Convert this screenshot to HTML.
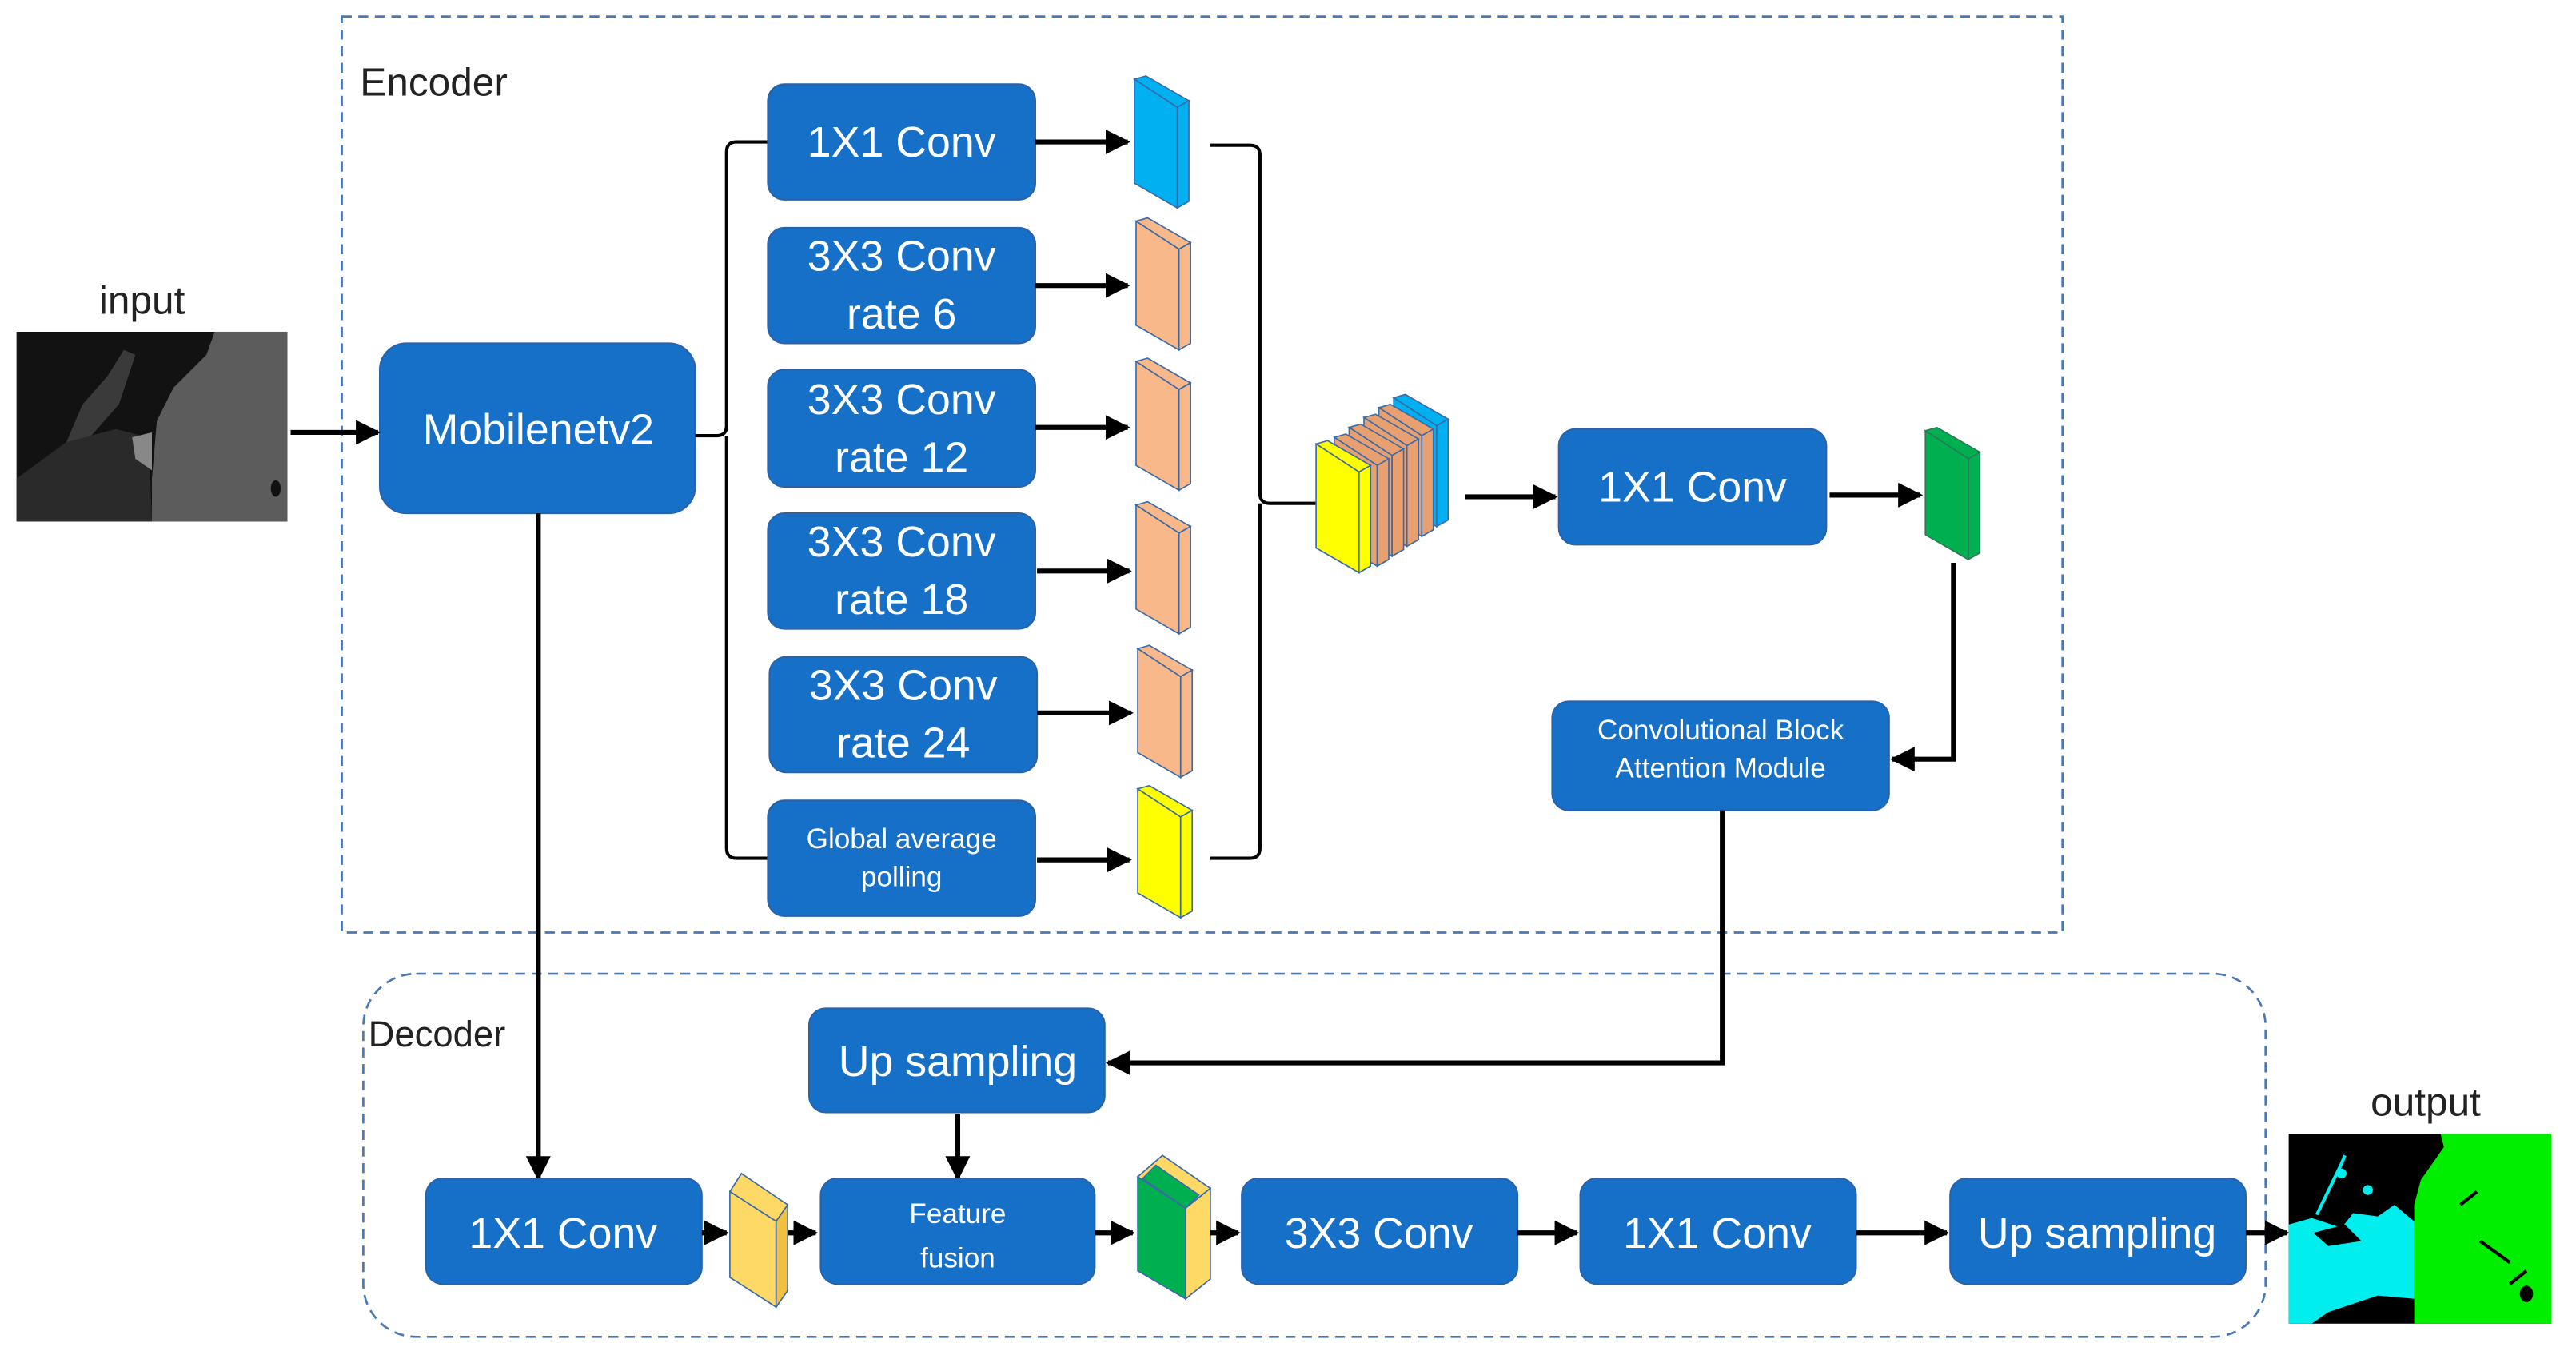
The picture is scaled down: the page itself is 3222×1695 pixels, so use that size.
<!DOCTYPE html>
<html><head><meta charset="utf-8"><style>
html,body{margin:0;padding:0;background:#fff;}
svg{display:block;}
text{font-family:"Liberation Sans",sans-serif;}
.b{fill:#1670c8;stroke:#2a62a8;stroke-width:1;}
.t{fill:#fff;text-anchor:middle;font-size:26px;}
.s{fill:#fff;text-anchor:middle;font-size:17px;}
.l{stroke:#000;stroke-width:3;fill:none;}
.ln{stroke:#000;stroke-width:2;fill:none;}
</style></head><body>
<svg width="3222" height="1695" viewBox="0 0 1560 821" preserveAspectRatio="none" xmlns="http://www.w3.org/2000/svg">
<defs>
<marker id="a" markerWidth="5" markerHeight="5" refX="4.5" refY="2.5" orient="auto" markerUnits="strokeWidth"><path d="M0,0 L5,2.5 L0,5 z" fill="#000"/></marker>
<g id="slab"><polygon points="0,2 7,0 33,15 26,19" /><polygon points="0,2 26,19 26,80 0,65"/><polygon points="26,19 33,15 33,76 26,80"/></g>
</defs>
<!-- encoder box -->
<rect x="207" y="10" width="1042" height="555" fill="none" stroke="#4a78b5" stroke-width="1.3" stroke-dasharray="6,4"/>
<text x="218" y="58" font-size="24" fill="#222">Encoder</text>
<!-- decoder box -->
<rect x="220" y="590" width="1152" height="220" rx="32" fill="none" stroke="#4a78b5" stroke-width="1.3" stroke-dasharray="6,4"/>
<text x="223" y="634" font-size="22" fill="#222">Decoder</text>
<!-- input -->
<text x="86" y="190" font-size="24" fill="#222" text-anchor="middle">input</text>
<rect x="10" y="201" width="164" height="115" fill="#121212"/>
<polygon points="92,201 174,201 174,316 92,316 92,290 95,255 105,235 125,215 130,201" fill="#5c5c5c"/>
<polygon points="35,280 50,245 65,228 75,212 82,215 72,245 50,270 42,282" fill="#3a3a3a"/>
<polygon points="10,290 40,268 70,260 90,265 92,316 10,316" fill="#2a2a2a"/>
<polygon points="80,265 92,262 92,285 82,278" fill="#888"/>
<ellipse cx="167" cy="296" rx="3" ry="5" fill="#111"/>
<!-- mobilenet -->
<rect class="b" x="230" y="208" width="191" height="103" rx="16"/>
<text class="t" x="326" y="269">Mobilenetv2</text>
<line class="l" x1="176" y1="262" x2="229" y2="262" marker-end="url(#a)"/>
<!-- branch bracket -->
<path class="ln" d="M421,264 L434,264 Q440,264 440,258 L440,92 Q440,86 446,86 L465,86"/>
<path class="ln" d="M440,264 L440,514 Q440,520 446,520 L465,520"/>
<!-- branch boxes -->
<rect class="b" x="465" y="51" width="162" height="70" rx="10"/><text class="t" x="546" y="95">1X1 Conv</text>
<rect class="b" x="465" y="138" width="162" height="70" rx="10"/><text class="t" x="546" y="164">3X3 Conv</text><text class="t" x="546" y="199">rate 6</text>
<rect class="b" x="465" y="224" width="162" height="71" rx="10"/><text class="t" x="546" y="251">3X3 Conv</text><text class="t" x="546" y="286">rate 12</text>
<rect class="b" x="465" y="311" width="162" height="70" rx="10"/><text class="t" x="546" y="337">3X3 Conv</text><text class="t" x="546" y="372">rate 18</text>
<rect class="b" x="466" y="398" width="162" height="70" rx="10"/><text class="t" x="547" y="424">3X3 Conv</text><text class="t" x="547" y="459">rate 24</text>
<rect class="b" x="465" y="485" width="162" height="70" rx="10"/><text class="s" x="546" y="514">Global average</text><text class="s" x="546" y="537">polling</text>
<!-- arrows -->
<line class="l" x1="627" y1="86" x2="683" y2="86" marker-end="url(#a)"/>
<line class="l" x1="627" y1="173" x2="683" y2="173" marker-end="url(#a)"/>
<line class="l" x1="627" y1="259" x2="683" y2="259" marker-end="url(#a)"/>
<line class="l" x1="628" y1="346" x2="684" y2="346" marker-end="url(#a)"/>
<line class="l" x1="628" y1="432" x2="685" y2="432" marker-end="url(#a)"/>
<line class="l" x1="628" y1="521" x2="684" y2="521" marker-end="url(#a)"/>
<!-- maps -->
<g stroke="#3a6aa8" stroke-width="0.8">
<use href="#slab" x="687" y="46" fill="#00b0f0"/>
<use href="#slab" x="688" y="132" fill="#f8b88a"/>
<use href="#slab" x="688" y="217" fill="#f8b88a"/>
<use href="#slab" x="688" y="304" fill="#f8b88a"/>
<use href="#slab" x="689" y="391" fill="#f8b88a"/>
<use href="#slab" x="689" y="476" fill="#ffff00"/>
</g>
<!-- right bracket -->
<path class="ln" d="M733,88 L757,88 Q763,88 763,94 L763,299 Q763,305 769,305 L797,305"/>
<path class="ln" d="M733,520 L757,520 Q763,520 763,514 L763,305"/>
<!-- concat stack -->
<g stroke="#3a6aa8" stroke-width="0.8">
<use href="#slab" x="844" y="239" fill="#00b0f0"/>
<use href="#slab" x="835" y="245" fill="#e8a070"/>
<use href="#slab" x="826" y="251" fill="#e8a070"/>
<use href="#slab" x="817" y="257" fill="#e8a070"/>
<use href="#slab" x="808" y="263" fill="#e8a070"/>
<use href="#slab" x="797" y="267" fill="#ffff00"/>
</g>
<line class="l" x1="887" y1="301" x2="942" y2="301" marker-end="url(#a)"/>
<rect class="b" x="944" y="260" width="162" height="70" rx="10"/><text class="t" x="1025" y="304">1X1 Conv</text>
<line class="l" x1="1108" y1="300" x2="1163" y2="300" marker-end="url(#a)"/>
<g stroke="#2a7a5a" stroke-width="0.8"><use href="#slab" x="1166" y="259" fill="#00b050"/></g>
<path class="l" d="M1183,341 L1183,460 L1146,460" marker-end="url(#a)"/>
<rect class="b" x="940" y="425" width="204" height="66" rx="10"/>
<text class="s" x="1042" y="448">Convolutional Block</text><text class="s" x="1042" y="471">Attention Module</text>
<path class="l" d="M1043,491 L1043,644 L671,644" marker-end="url(#a)"/>
<rect class="b" x="490" y="611" width="179" height="63" rx="10"/><text class="t" x="580" y="652">Up sampling</text>
<line class="l" x1="580" y1="675" x2="580" y2="714" marker-end="url(#a)"/>
<line class="l" x1="326" y1="311" x2="326" y2="714" marker-end="url(#a)"/>
<!-- bottom row -->
<rect class="b" x="258" y="714" width="167" height="64" rx="10"/><text class="t" x="341" y="756">1X1 Conv</text>
<line class="l" x1="425" y1="747" x2="440" y2="747" marker-end="url(#a)"/>
<g stroke="#3a6aa8" stroke-width="0.8">
<polygon points="442,722 449,711 477,730 470,740" fill="#ffd966"/>
<polygon points="442,722 470,740 470,792 442,774" fill="#ffd966"/>
<polygon points="470,740 477,730 477,782 470,792" fill="#f0c040"/>
</g>
<line class="l" x1="477" y1="747" x2="494" y2="747" marker-end="url(#a)"/>
<rect class="b" x="497" y="714" width="166" height="64" rx="10"/><text class="s" x="580" y="741">Feature</text><text class="s" x="580" y="768">fusion</text>
<line class="l" x1="663" y1="747" x2="686" y2="747" marker-end="url(#a)"/>
<g stroke="#3a6aa8" stroke-width="0.8">
<polygon points="689,713 704,700 733,720 718,732" fill="#ffd966"/>
<polygon points="689,713 718,732 718,787 689,770" fill="#00b050"/>
<polygon points="718,732 733,720 733,775 718,787" fill="#ffd966"/>
<polygon points="700,706 726,724 718,732 692,714" fill="#00b050"/>
</g>
<line class="l" x1="733" y1="747" x2="750" y2="747" marker-end="url(#a)"/>
<rect class="b" x="752" y="714" width="167" height="64" rx="10"/><text class="t" x="835" y="756">3X3 Conv</text>
<line class="l" x1="919" y1="747" x2="955" y2="747" marker-end="url(#a)"/>
<rect class="b" x="957" y="714" width="167" height="64" rx="10"/><text class="t" x="1040" y="756">1X1 Conv</text>
<line class="l" x1="1124" y1="747" x2="1179" y2="747" marker-end="url(#a)"/>
<rect class="b" x="1181" y="714" width="179" height="64" rx="10"/><text class="t" x="1270" y="756">Up sampling</text>
<line class="l" x1="1360" y1="747" x2="1385" y2="747" marker-end="url(#a)"/>
<!-- output -->
<text x="1469" y="676" font-size="24" fill="#222" text-anchor="middle">output</text>
<rect x="1386" y="687" width="159" height="115" fill="#000"/>
<polygon points="1462,687 1545,687 1545,802 1462,802 1462,730 1466,715 1480,695 1478,687" fill="#00ee00"/>
<polygon points="1386,742 1400,738 1418,744 1425,735 1440,737 1450,730 1462,740 1462,787 1440,785 1425,790 1410,795 1400,802 1386,802" fill="#00eeee"/>
<polygon points="1401,747 1420,742 1430,752 1410,755" fill="#000"/>
<path d="M1403,736 L1418,705 L1420,700" stroke="#00eeee" stroke-width="2" fill="none"/>
<circle cx="1418" cy="711" r="3" fill="#00eeee"/><circle cx="1434" cy="721" r="3" fill="#00eeee"/>
<path d="M1490,730 L1500,722 M1520,778 L1530,770 M1502,752 L1520,765" stroke="#000" stroke-width="2"/>
<ellipse cx="1530" cy="784" rx="4" ry="5" fill="#000"/>
</svg>
</body></html>
